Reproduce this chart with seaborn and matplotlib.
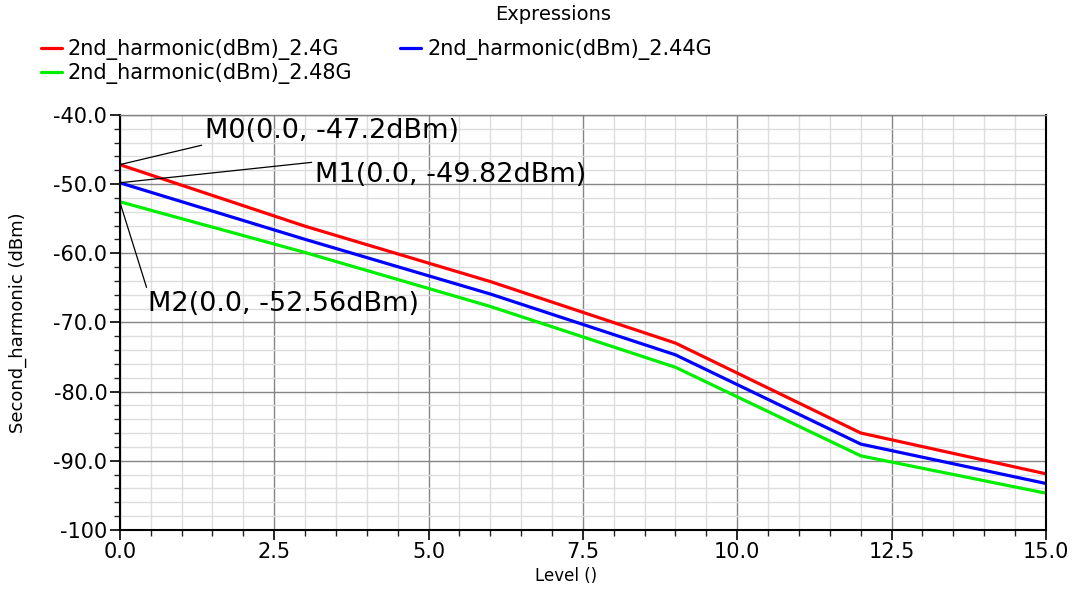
import numpy as np
import pandas as pd
import matplotlib
matplotlib.use("Agg")
import matplotlib.pyplot as plt
from matplotlib.ticker import MultipleLocator
import seaborn as sns

# sweep levels and the three 2nd harmonic curves
level = [0, 3, 6, 9, 12, 15]
h_24 = [-47.2, -56.1, -64.1, -73.0, -86.0, -91.9]
h_244 = [-49.82, -58.0, -65.9, -74.7, -87.6, -93.3]
h_248 = [-52.56, -59.9, -67.7, -76.5, -89.3, -94.7]
names = ["2nd_harmonic(dBm)_2.4G", "2nd_harmonic(dBm)_2.44G", "2nd_harmonic(dBm)_2.48G"]
colors = ["#ff0000", "#0000ff", "#00ee00"]
x_ticks = [0.0, 2.5, 5.0, 7.5, 10.0, 12.5, 15.0]
x_labels = ["0.0", "2.5", "5.0", "7.5", "10.0", "12.5", "15.0"]
y_ticks = [-100, -90, -80, -70, -60, -50, -40]
y_labels = ["-100", "-90.0", "-80.0", "-70.0", "-60.0", "-50.0", "-40.0"]

df = pd.concat([
    pd.DataFrame({"Level": level, "dBm": vals, "expr": nm})
    for vals, nm in zip([h_24, h_244, h_248], names)
])

sns.set_style("white")
plt.rcParams["font.family"] = ["DejaVu Sans"]
plt.rcParams["text.color"] = "black"
plt.rcParams["axes.labelcolor"] = "black"

fig = plt.figure(figsize=(10.79, 5.92), dpi=100)
ax = fig.add_axes([0.111, 0.105, 0.8584, 0.701])

sns.lineplot(data=df, x="Level", y="dBm", hue="expr", hue_order=names,
             palette=colors, linewidth=2.3, legend=False, ax=ax)

ax.set_xlim(0, 15)
ax.set_ylim(-100, -40)
ax.set_xticks(x_ticks)
ax.set_xticklabels(x_labels)
ax.set_yticks(y_ticks)
ax.set_yticklabels(y_labels)
ax.xaxis.set_minor_locator(MultipleLocator(0.5))
ax.yaxis.set_minor_locator(MultipleLocator(2))
ax.grid(which="major", color="#858585", linewidth=1.0)
ax.grid(which="minor", color="#dddddd", linewidth=1.0)
ax.set_axisbelow(True)
ax.tick_params(which="major", direction="out", length=7, width=1.2, labelsize=15,
               colors="black", pad=2)
ax.tick_params(which="minor", direction="out", length=4, width=1.0)
ax.tick_params(axis="both", which="both", bottom=True, left=True)
for s in ["left", "bottom", "right"]:
    ax.spines[s].set_color("black")
    ax.spines[s].set_linewidth(1.5)
ax.spines["top"].set_color("#808080")
ax.spines["top"].set_linewidth(1.0)

ax.set_xlabel("Level ()", fontsize=12)
ax.set_ylabel("Second_harmonic (dBm)", fontsize=13)
ax.xaxis.set_label_coords(0.482, -0.09)
ax.yaxis.set_label_coords(-0.1, 0.5)

# marker annotations
marks = [
    ("M0(0.0, -47.2dBm)", h_24[0], (1.38, -42.4), (0, 0)),
    ("M1(0.0, -49.82dBm)", h_244[0], (3.16, -48.7), (0, 1)),
    ("M2(0.0, -52.56dBm)", h_248[0], (0.45, -67.3), (0, 1)),
]
for txt, yv, pos, rel in marks:
    ax.annotate(txt, xy=(0, yv), xytext=pos, ha="left", va="center", fontsize=19.5,
                arrowprops=dict(arrowstyle="-", color="black", lw=0.9,
                                shrinkA=0, shrinkB=0, relpos=rel))

# legend laid out like the original (two per row)
lines = ax.get_lines()[:3]
order = [0, 2, 1]
fig.legend([lines[i] for i in order], [names[i] for i in order],
           loc="upper left", bbox_to_anchor=(0.03, 0.948), ncol=2, frameon=False,
           fontsize=15, handlelength=1.0, handletextpad=0.3, columnspacing=2.3,
           labelspacing=0.15, borderaxespad=0)
fig.text(0.513, 0.975, "Expressions", ha="center", va="center", fontsize=14)

fig.savefig("out.png", dpi=100)
